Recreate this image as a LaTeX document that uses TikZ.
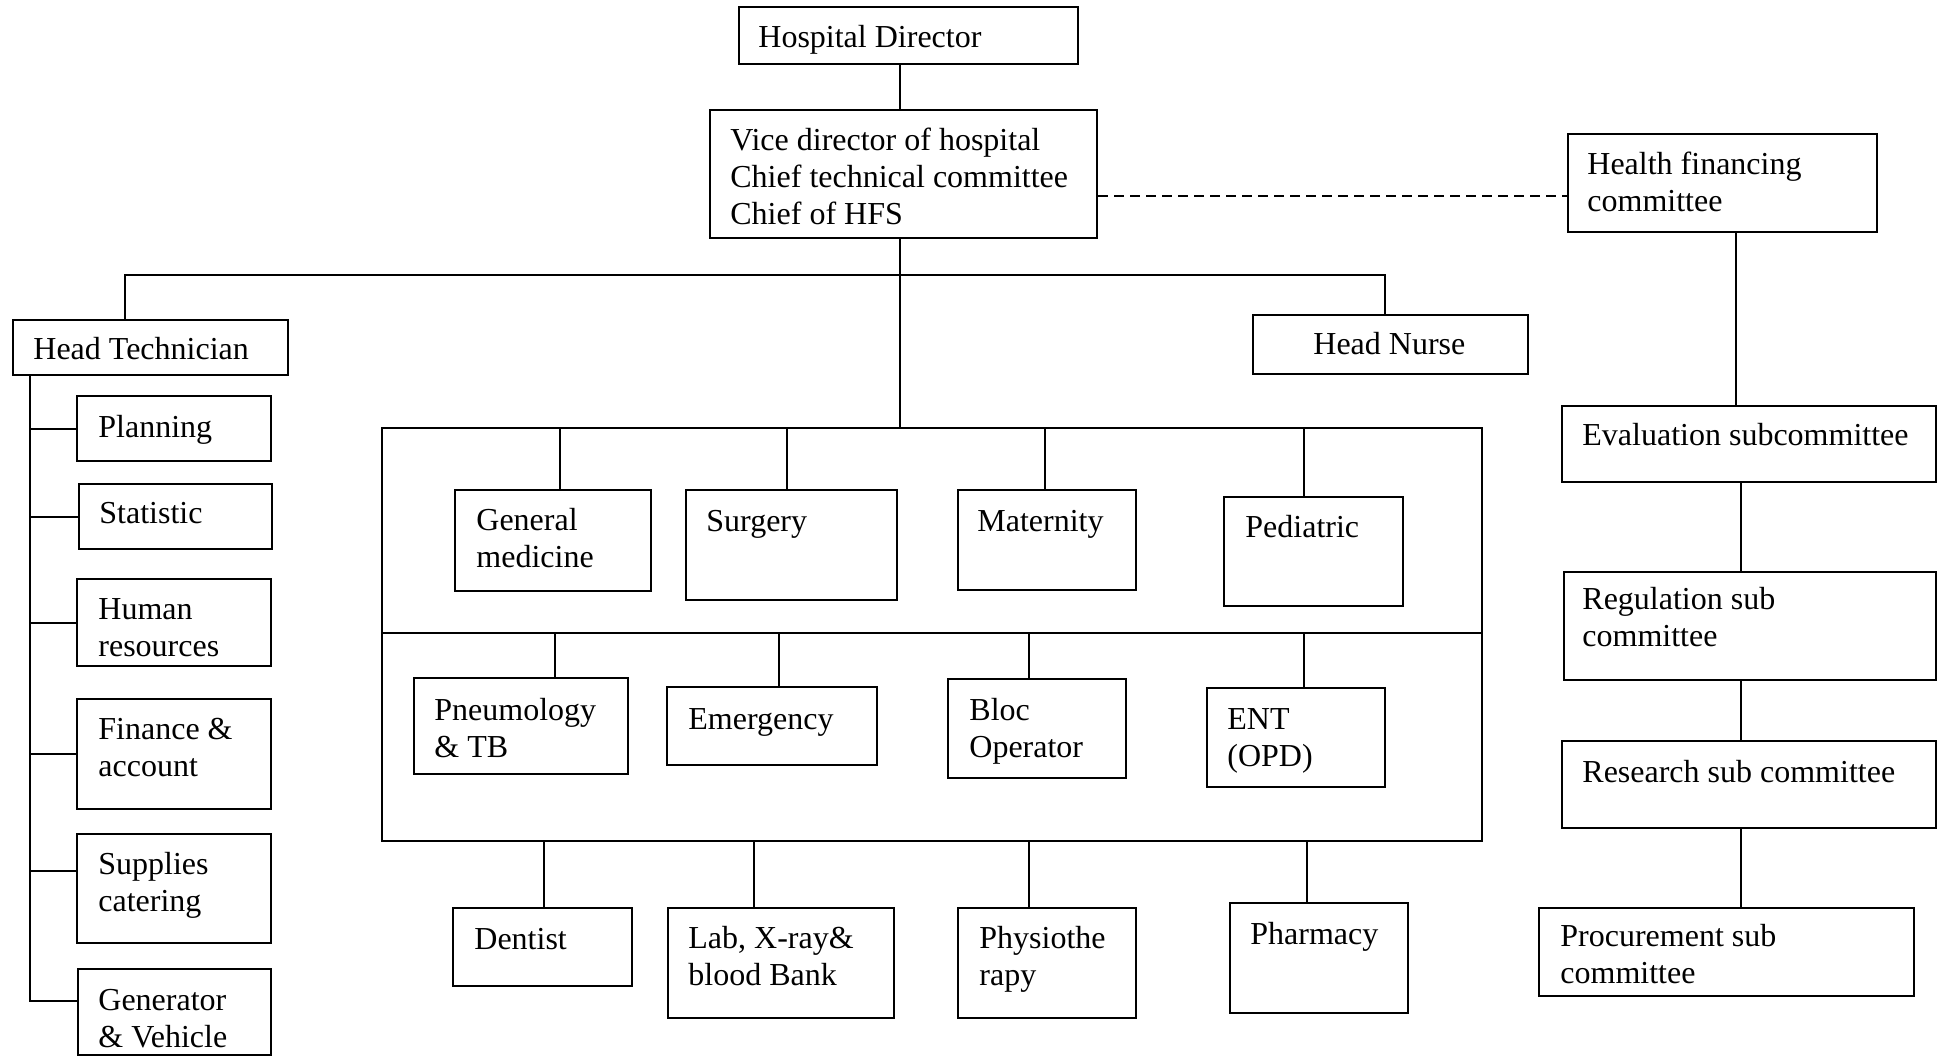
\documentclass[tikz,border=0pt]{standalone}
\usepackage{fontspec}
\setmainfont{Liberation Serif}
\usetikzlibrary{fit}
\newcommand\ml[1]{\begin{tabular}[t]{@{}l@{}}#1\end{tabular}}
\newcommand\bx[5]{\node[box, fit={(#2,#3) (#4,#5)}] (#1) {};}
\begin{document}
\begin{tikzpicture}[x=0.5pt,y=-0.5pt,
  box/.style={draw, line width=1pt, inner sep=0pt},
  txt/.style={anchor=base west, inner sep=0pt, font=\fontsize{16}{18.5}\selectfont},
  conn/.style={line width=1pt},
  dashconn/.style={line width=0.9pt, dash pattern=on 5pt off 3pt}]
\useasboundingbox (0,0) rectangle (1940,1056);
\fill[white] (0,0) rectangle (1940,1056);

% top
\bx{hd}{739}{7}{1078}{64}
\node[txt] (hd-t) at (758,47) {Hospital Director};
\bx{vice}{710}{110}{1097}{238}
\node[txt] (vice-t) at (730,150) {\ml{Vice director of hospital\\Chief technical committee\\Chief of HFS}};
\bx{hfc}{1568}{134}{1877}{232}
\node[txt] (hfc-t) at (1587,174) {\ml{Health financing\\committee}};
\bx{ht}{13}{320}{288}{375}
\node[txt] (ht-t) at (33,359) {Head Technician};
\bx{hn}{1253}{315}{1528}{374}
\node[txt] (hn-t) at (1313,354) {Head Nurse};

% left column
\bx{pl}{77}{396}{271}{461}
\node[txt] (pl-t) at (98,437) {Planning};
\bx{st}{79}{484}{272}{549}
\node[txt] (st-t) at (99,523) {Statistic};
\bx{hr}{77}{579}{271}{666}
\node[txt] (hr-t) at (98,619) {\ml{Human\\resources}};
\bx{fa}{77}{699}{271}{809}
\node[txt] (fa-t) at (98,739) {\ml{Finance \&\\account}};
\bx{sc}{77}{834}{271}{943}
\node[txt] (sc-t) at (98,874) {\ml{Supplies\\catering}};
\bx{gv}{78}{969}{271}{1055}
\node[txt] (gv-t) at (98,1010) {\ml{Generator\\\& Vehicle}};

% big box
\bx{big}{382}{428}{1482}{841}
\coordinate (div) at (382,633);
\draw[conn] (div) -- (div -| big.east);

\bx{gm}{455}{490}{651}{591}
\node[txt] (gm-t) at (476,530) {\ml{General\\medicine}};
\bx{su}{686}{490}{897}{600}
\node[txt] (su-t) at (706,531) {Surgery};
\bx{ma}{958}{490}{1136}{590}
\node[txt] (ma-t) at (977,531) {Maternity};
\bx{pe}{1224}{497}{1403}{606}
\node[txt] (pe-t) at (1245,537) {Pediatric};

\bx{pn}{414}{678}{628}{774}
\node[txt] (pn-t) at (434,720) {\ml{Pneumology\\\& TB}};
\bx{em}{667}{687}{877}{765}
\node[txt] (em-t) at (688,729) {Emergency};
\bx{bo}{948}{679}{1126}{778}
\node[txt] (bo-t) at (969,720) {\ml{Bloc\\Operator}};
\bx{en}{1207}{688}{1385}{787}
\node[txt] (en-t) at (1227,729) {\ml{ENT\\(OPD)}};

\bx{de}{453}{908}{632}{986}
\node[txt] (de-t) at (474,949) {Dentist};
\bx{la}{668}{908}{894}{1018}
\node[txt] (la-t) at (688,948) {\ml{Lab, X-ray\&\\blood Bank}};
\bx{ph}{958}{908}{1136}{1018}
\node[txt] (ph-t) at (979,948) {\ml{Physiothe\\rapy}};
\bx{pa}{1230}{903}{1408}{1013}
\node[txt] (pa-t) at (1250,944) {Pharmacy};

% right column
\bx{ev}{1562}{406}{1936}{482}
\node[txt] (ev-t) at (1582,445) {Evaluation subcommittee};
\bx{re}{1564}{572}{1936}{680}
\node[txt] (re-t) at (1582,609) {\ml{Regulation sub\\committee}};
\bx{rs}{1562}{741}{1936}{828}
\node[txt] (rs-t) at (1582,782) {Research sub committee};
\bx{pr}{1539}{908}{1914}{996}
\node[txt] (pr-t) at (1560,946) {\ml{Procurement sub\\committee}};

% connector x positions
\coordinate (x0) at (900,0);
\coordinate (xL) at (125,0);
\coordinate (xR) at (1385,0);
\coordinate (bar) at (0,275);
\coordinate (sp) at (30,0);
\coordinate (t1) at (560,0);
\coordinate (t2) at (787,0);
\coordinate (t3) at (1045,0);
\coordinate (t4) at (1304,0);
\coordinate (m1) at (555,0);
\coordinate (m2) at (779,0);
\coordinate (m3) at (1029,0);
\coordinate (m4) at (1304,0);
\coordinate (b1) at (544,0);
\coordinate (b2) at (754,0);
\coordinate (b3) at (1029,0);
\coordinate (b4) at (1307,0);
\coordinate (r0) at (1736,0);
\coordinate (r1) at (1741,0);

% connectors
\draw[conn] (x0 |- hd.south) -- (x0 |- vice.north);
\draw[conn] (x0 |- vice.south) -- (x0 |- big.north);
\draw[conn] (xL |- ht.north) -- (xL |- bar) -- (xR |- bar) -- (xR |- hn.north);
\coordinate (dsh) at ([yshift=-11pt]vice.east);
\draw[dashconn] (dsh) -- (dsh -| hfc.west);

% left spine
\coordinate (bsc) at ([yshift=9pt]sc.west);
\coordinate (bgv) at ([yshift=5.5pt]gv.west);
\draw[conn] (sp |- ht.south) -- (sp |- bgv) -- (bgv);
\draw[conn] (sp |- pl.west) -- (pl.west);
\draw[conn] (sp |- st.west) -- (st.west);
\draw[conn] (sp |- hr.west) -- (hr.west);
\draw[conn] (sp |- fa.west) -- (fa.west);
\draw[conn] (sp |- bsc) -- (bsc);

% big box children
\draw[conn] (t1 |- big.north) -- (t1 |- gm.north);
\draw[conn] (t2 |- big.north) -- (t2 |- su.north);
\draw[conn] (t3 |- big.north) -- (t3 |- ma.north);
\draw[conn] (t4 |- big.north) -- (t4 |- pe.north);
\draw[conn] (m1 |- div) -- (m1 |- pn.north);
\draw[conn] (m2 |- div) -- (m2 |- em.north);
\draw[conn] (m3 |- div) -- (m3 |- bo.north);
\draw[conn] (m4 |- div) -- (m4 |- en.north);
\draw[conn] (b1 |- big.south) -- (b1 |- de.north);
\draw[conn] (b2 |- big.south) -- (b2 |- la.north);
\draw[conn] (b3 |- big.south) -- (b3 |- ph.north);
\draw[conn] (b4 |- big.south) -- (b4 |- pa.north);

% right column
\draw[conn] (r0 |- hfc.south) -- (r0 |- ev.north);
\draw[conn] (r1 |- ev.south) -- (r1 |- re.north);
\draw[conn] (r1 |- re.south) -- (r1 |- rs.north);
\draw[conn] (r1 |- rs.south) -- (r1 |- pr.north);
\end{tikzpicture}
\end{document}
